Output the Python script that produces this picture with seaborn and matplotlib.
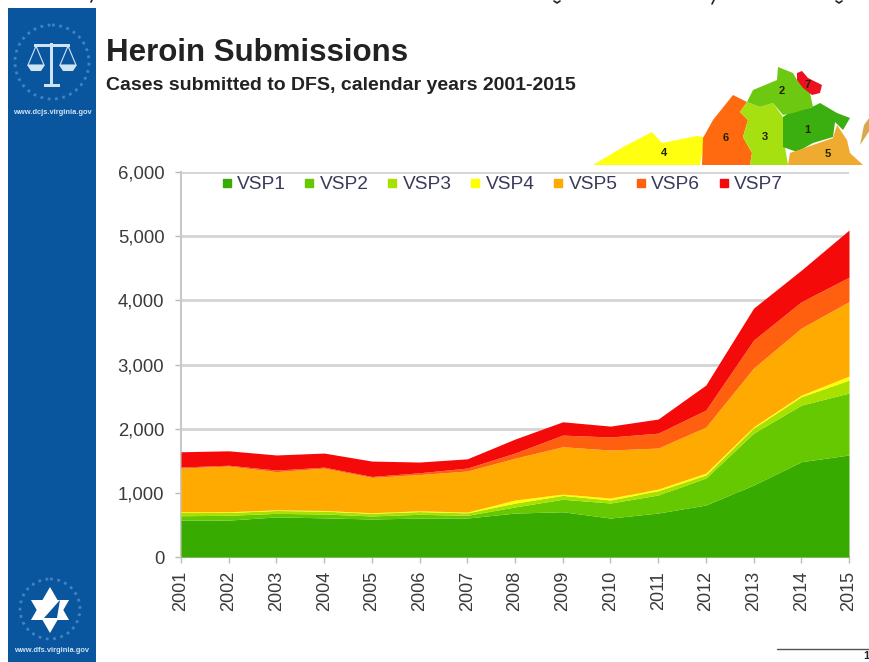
import numpy as np
import pandas as pd
import matplotlib
matplotlib.use("Agg")
import matplotlib.pyplot as plt
from matplotlib.patches import Polygon, Rectangle, Circle, RegularPolygon
from matplotlib.lines import Line2D
import seaborn as sns

years = list(range(2001, 2016))
series = ["VSP1", "VSP2", "VSP3", "VSP4", "VSP5", "VSP6", "VSP7"]
colors = ["#38AB00", "#66C800", "#A8E000", "#FFFF00", "#FFAA00", "#FF6010", "#F50A0A"]
# cumulative top edge of each band
top1 = [576, 575, 625, 610, 592, 607, 607, 685, 705, 607, 685, 810, 1121, 1485, 1590]
top2 = [643, 650, 680, 670, 640, 665, 650, 780, 900, 841, 966, 1230, 1930, 2367, 2555]
top3 = [693, 693, 725, 715, 680, 708, 688, 840, 960, 888, 1033, 1277, 2010, 2497, 2757]
top4 = [705, 705, 735, 725, 690, 720, 700, 888, 981, 919, 1059, 1308, 2030, 2523, 2820]
top5 = [1386, 1417, 1330, 1385, 1240, 1285, 1340, 1540, 1718, 1667, 1698, 2025, 2945, 3567, 3980]
top6 = [1402, 1430, 1355, 1400, 1255, 1313, 1386, 1620, 1900, 1870, 1930, 2290, 3380, 3977, 4360]
top7 = [1640, 1655, 1590, 1620, 1495, 1480, 1530, 1838, 2107, 2040, 2150, 2680, 3878, 4470, 5095]
tops = [top1, top2, top3, top4, top5, top6, top7]
y_ticks = [0, 1000, 2000, 3000, 4000, 5000, 6000]

W, H = 870, 662
sns.set_theme(style="white")
plt.rcParams["font.family"] = ["Liberation Sans", "DejaVu Sans"]

df = pd.DataFrame(np.array(tops).T, index=years, columns=series)
bands = df.diff(axis=1).fillna(df[["VSP1"]].reindex(columns=series))

fig = plt.figure(figsize=(W / 100, H / 100), dpi=100, facecolor="white")
ax = fig.add_axes([181 / W, 1 - 557 / H, (849 - 181) / W, (557 - 172) / H])
palette = sns.color_palette(colors)
ax.stackplot(years, [bands[s].values for s in series], colors=palette, lw=0, zorder=3)
ax.set_xlim(2001, 2015)
ax.set_ylim(0, 6000)
ax.set_yticks(y_ticks)
ax.set_yticklabels([f"{v:,}" for v in y_ticks], fontsize=13.3, color="#3A3A3A")
ax.set_xticks(years)
ax.set_xticklabels(years, rotation=90, fontsize=13, color="#3A3A3A")
ax.yaxis.grid(True, color="#D4D4D4", lw=2, zorder=0)
ax.xaxis.grid(False)
ax.set_axisbelow(True)
sns.despine(ax=ax, top=True, right=True)
for s in ("left", "bottom"):
    ax.spines[s].set_color("#C8C8C8")
    ax.spines[s].set_linewidth(1.5)
ax.tick_params(axis="y", length=4, width=1, color="#BBBBBB", pad=8, left=True)
ax.tick_params(axis="x", length=4, width=1, color="#BBBBBB", pad=6, bottom=True)

handles = [Line2D([], [], ls="", marker="s", ms=6, color=c) for c in palette]
ax.legend(handles, series, ncol=7, loc="upper left", bbox_to_anchor=(0.061, 0.99), frameon=False,
          fontsize=13.8, handlelength=0.5, handletextpad=0.3, columnspacing=0.97,
          labelcolor="#3A3A5A", borderaxespad=0, borderpad=0)

# overlay in pixel coordinates for the slide decoration
ov = fig.add_axes([0, 0, 1, 1], zorder=5)
ov.set_xlim(0, W)
ov.set_ylim(H, 0)
ov.axis("off")
blue = "#0A569E"
ring = "#3F83C4"
light = "#CFE3F5"
ov.add_patch(Rectangle((8, 8), 88, 654, color=blue, lw=0))
# scales emblem
ov.add_patch(Circle((52, 62), 37, fill=False, ec=ring, lw=2, ls=":"))
ov.add_patch(Rectangle((50.5, 43), 3, 43, color=light, lw=0))
ov.add_patch(Rectangle((34, 44), 36, 2.5, color=light, lw=0))
ov.add_patch(Rectangle((44, 84), 16, 3, color=light, lw=0))
ov.add_patch(Polygon([(27, 65), (45, 65), (41, 71), (31, 71)], color=light, lw=0))
ov.add_patch(Polygon([(59, 65), (77, 65), (73, 71), (63, 71)], color=light, lw=0))
ov.add_line(Line2D([36, 28, 44, 36], [46, 65, 65, 46], color=light, lw=0.8))
ov.add_line(Line2D([68, 60, 76, 68], [46, 65, 65, 46], color=light, lw=0.8))
ov.text(52, 113, "www.dcjs.virginia.gov", fontsize=5.4, color=light, ha="center", va="center", weight="bold")
# star emblem
ov.add_patch(Circle((50, 609), 30, fill=False, ec=ring, lw=2, ls=":"))
ov.add_patch(RegularPolygon((50, 611), 3, radius=22, color="white", lw=0))
ov.add_patch(RegularPolygon((50, 609), 3, radius=22, orientation=np.pi, color="white", lw=0))
ov.add_patch(Polygon([(44, 618), (60, 600), (57, 618)], color=blue, lw=0))
ov.text(52, 651, "www.dfs.virginia.gov", fontsize=5.4, color=light, ha="center", va="center", weight="bold")

# titles
ov.text(106, 53, "Heroin Submissions", fontsize=22.5, weight="bold", color="#222222", va="center")
ov.text(106, 86, "Cases submitted to DFS, calendar years 2001-2015", fontsize=14, weight="bold", color="#222222", va="center")

# Virginia map
regions = [
    ("#FFFF10", [(593, 165), (623, 147), (652, 132), (662, 143), (697, 136), (705, 137), (700, 165)], "4", (664, 153)),
    ("#FF6A10", [(702, 165), (703, 138), (713, 120), (733, 95), (747, 102), (740, 112), (748, 120), (743, 137), (752, 153), (750, 165)], "6", (726, 138)),
    ("#A6E010", [(750, 165), (752, 153), (743, 137), (748, 120), (740, 112), (747, 102), (760, 107), (773, 103), (783, 117), (785, 147), (788, 165)], "3", (765, 137)),
    ("#3CAF10", [(783, 117), (793, 110), (810, 108), (820, 103), (837, 113), (850, 118), (843, 130), (835, 122), (833, 137), (813, 143), (797, 152), (783, 147)], "1", (807, 130)),
    ("#6CC810", [(747, 102), (753, 90), (777, 80), (778, 67), (793, 73), (797, 80), (810, 93), (813, 107), (793, 113), (783, 115), (773, 103), (760, 107)], "2", (782, 91)),
    ("#EFAA30", [(788, 165), (790, 153), (813, 145), (833, 138), (837, 125), (847, 140), (850, 153), (863, 165)], "5", (828, 154)),
    ("#EE1020", [(797, 73), (802, 71), (808, 78), (822, 85), (820, 93), (812, 95), (803, 88), (797, 80)], "7", (808, 85)),
]
for color, pts, label, pos in regions:
    ov.add_patch(Polygon(pts, color=color, lw=0))
    ov.text(pos[0], pos[1], label, fontsize=8, weight="bold", color="#222200", ha="center", va="center")
ov.add_patch(Polygon([(860, 145), (864, 125), (870, 117), (870, 130)], color="#D8A850", lw=0))

# tails of the cropped line of text above the slide
for xs, ys in [([92, 91], [0, 2]), ([554, 557, 560], [1, 3, 1]), ([714, 712], [0, 4]), ([836, 839, 842], [1, 3, 1])]:
    ov.add_line(Line2D(xs, ys, color="#222222", lw=1.2))

# page rule at lower right
ov.add_line(Line2D([777, 870], [649, 649], color="#555555", lw=1))
ov.text(866, 661, "1", fontsize=8, color="#222222", ha="center", va="bottom", weight="bold")

fig.savefig("out.png", dpi=100)
